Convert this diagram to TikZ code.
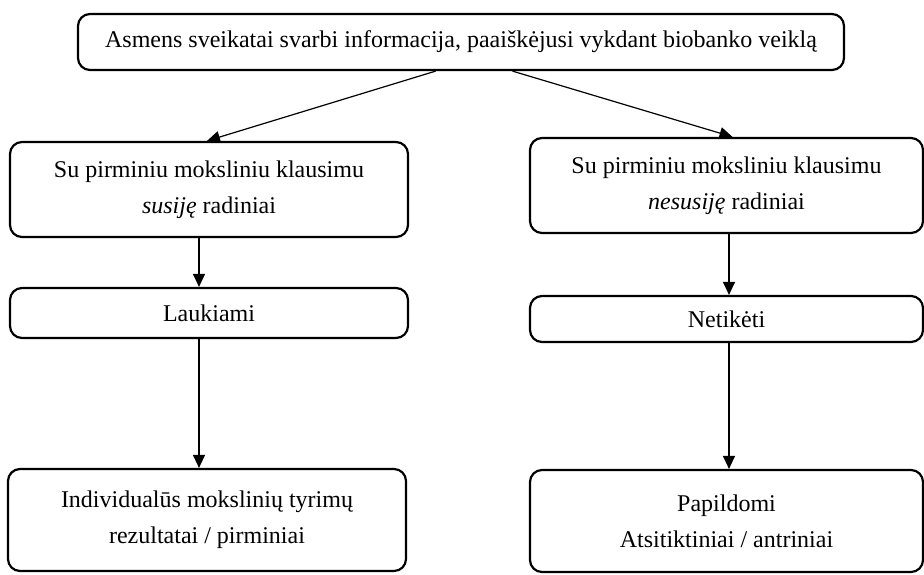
\documentclass[tikz,border=0pt]{standalone}
\usepackage{fontspec}
\setmainfont{Liberation Serif}
\usetikzlibrary{arrows.meta,calc}
\begin{document}
\begin{tikzpicture}[x=1pt,y=-1pt,
  box/.style={draw, line width=2.2pt, rounded corners=12pt, align=center,
    inner sep=0pt, font=\fontsize{24}{36}\selectfont},
  arr/.style={draw, line width=1.2pt, -{Triangle[length=13pt,width=12pt]}}]
  \useasboundingbox (0,0) rectangle (924,574);
  % top box
  \node[box, minimum width=766pt, minimum height=56pt] (top) at (461,42)
    {Asmens sveikatai svarbi informacija, paaiškėjusi vykdant biobanko veiklą};
  % second row
  \node[box, minimum width=398pt, minimum height=95pt] (lmid) at (209,189.5)
    {Su pirminiu moksliniu klausimu\\\textit{susiję} radiniai};
  \node[box, minimum width=393pt, minimum height=95pt] (rmid) at (726.5,185.5)
    {Su pirminiu moksliniu klausimu\\\textit{nesusiję} radiniai};
  % third row
  \node[box, minimum width=398pt, minimum height=50pt] (lexp) at (209,313) {Laukiami};
  \node[box, minimum width=393pt, minimum height=46pt] (rexp) at (726.5,319) {Netikėti};
  % bottom row
  \node[box, minimum width=398pt, minimum height=102pt] (lres) at (207,520)
    {Individualūs mokslinių tyrimų\\rezultatai / pirminiai};
  \node[box, minimum width=393pt, minimum height=102pt] (rres) at (726.5,521)
    {Papildomi\\Atsitiktiniai / antriniai};
  % connector anchors
  \coordinate (tl) at ($(top.south west)!0.467!(top.south east)$);
  \coordinate (tr) at ($(top.south west)!0.567!(top.south east)$);
  \coordinate (xl) at (199,0);
  \coordinate (xr) at (729,0);
  % connectors
  \draw[arr] (tl) -- ($(lmid.north)+(-2,0)$);
  \draw[arr] (tr) -- ($(rmid.north)+(6,0)$);
  \draw[arr] (lmid.south -| xl) -- (lexp.north -| xl);
  \draw[arr] (lexp.south -| xl) -- (lres.north -| xl);
  \draw[arr] (rmid.south -| xr) -- (rexp.north -| xr);
  \draw[arr] (rexp.south -| xr) -- (rres.north -| xr);
\end{tikzpicture}
\end{document}
